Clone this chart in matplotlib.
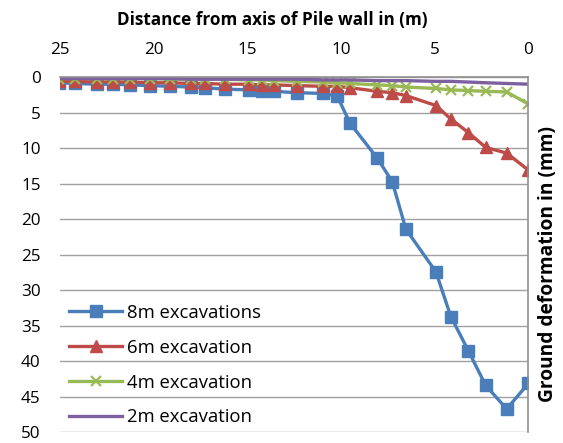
import matplotlib.pyplot as plt

plt.rcParams['font.family'] = ['Open Sans', 'DejaVu Sans']

# distance from pile wall axis (m), same stations for every series
distance = [25.05, 24.2, 23.04, 22.19, 21.27, 20.2, 19.13, 18.03, 17.26, 16.2,
            14.9, 14.24, 13.58, 12.37, 10.95, 10.2, 9.52, 8.07, 7.27, 6.54,
            4.94, 4.14, 3.21, 2.28, 1.16, 0.0]

# ground deformation (mm)
exc_8m = [0.8, 0.9, 1.0, 1.0, 1.1, 1.2, 1.3, 1.4, 1.5, 1.7,
          1.8, 1.9, 2.0, 2.2, 2.3, 2.7, 6.5, 11.4, 14.7, 21.4,
          27.4, 33.7, 38.5, 43.4, 46.7, 43.1]
exc_6m = [0.6, 0.6, 0.7, 0.7, 0.7, 0.8, 0.8, 0.9, 0.9, 1.0,
          1.0, 1.1, 1.1, 1.2, 1.3, 1.3, 1.5, 2.0, 2.2, 2.6,
          4.0, 5.9, 7.8, 9.9, 10.7, 13.1]
exc_4m = [0.2, 0.2, 0.2, 0.2, 0.2, 0.2, 0.3, 0.3, 0.3, 0.3,
          0.4, 0.4, 0.5, 0.6, 0.7, 0.8, 0.9, 1.1, 1.2, 1.4,
          1.6, 1.8, 1.9, 2.0, 2.1, 3.8]
exc_2m = [0.2, 0.2, 0.2, 0.2, 0.2, 0.2, 0.2, 0.3, 0.3, 0.3,
          0.3, 0.3, 0.3, 0.3, 0.4, 0.4, 0.4, 0.5, 0.5, 0.5,
          0.6, 0.6, 0.7, 0.8, 0.9, 1.0]

labels = ['8m excavations', '6m excavation', '4m excavation', '2m excavation']

fig = plt.figure(figsize=(5.63, 4.43), dpi=100)
ax = fig.add_axes([0.1066, 0.024, 0.832, 0.802])

ax.plot(distance, exc_8m, color='#4a7ebb', lw=2.4, marker='s', ms=8.5, label=labels[0])
ax.plot(distance, exc_6m, color='#be4b48', lw=2.4, marker='^', ms=8.5, label=labels[1])
ax.plot(distance, exc_4m, color='#98b954', lw=2.4, marker='x', ms=7, mew=1.6, label=labels[2])
ax.plot(distance, exc_2m, color='#7d60a0', lw=2.4, label=labels[3])

ax.set_xlim(25, 0)
ax.set_ylim(50, 0)
ax.set_xticks([25, 20, 15, 10, 5, 0])
ax.set_yticks(range(0, 51, 5))
ax.xaxis.tick_top()
ax.tick_params(length=0, labelsize=12.3)
ax.tick_params(axis='x', pad=14)
ax.tick_params(axis='y', pad=14)

ax.set_xlabel('Distance from axis of Pile wall in (m)', fontsize=12.3, fontweight='bold',
              ha='center', va='center')
ax.xaxis.set_label_coords(0.4525, 1.16)
ax.set_ylabel('Ground deformation in (mm)', fontsize=13.8, fontweight='bold',
              ha='center', va='center')
ax.yaxis.set_label_coords(1.0416, 0.475)

ax.grid(axis='y', color='#a0a0a0', lw=1)
ax.set_axisbelow(True)
for s in ['left', 'bottom']:
    ax.spines[s].set_visible(False)
for s in ['top', 'right']:
    ax.spines[s].set_color('#909090')
    ax.spines[s].set_linewidth(1.2)

ax.legend(loc='lower left', bbox_to_anchor=(0.0, -0.009), frameon=False, fontsize=13.3,
          handlelength=2.86, handletextpad=0.27, labelspacing=0.91, borderaxespad=0.1)

fig.savefig('out.png', dpi=100)
